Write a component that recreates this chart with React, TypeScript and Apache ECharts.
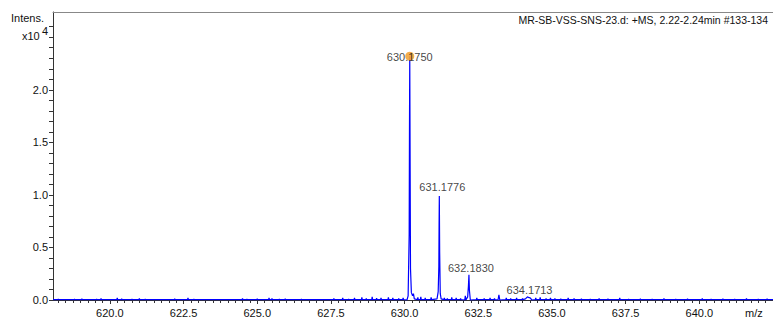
import React, { useEffect, useRef } from "react";
import * as echarts from "echarts";

// ---- axis ticks / labels ----
const xTickLabels = [620.0, 622.5, 625.0, 627.5, 630.0, 632.5, 635.0, 637.5, 640.0];
const yTickLabels = [0.0, 0.5, 1.0, 1.5, 2.0];

// ---- annotated peaks (m/z, intensity x10^4) ----
const peakLabels = ["630.1750", "631.1776", "632.1830", "634.1713"];
const peakMz = [630.175, 631.1776, 632.183, 634.1713];
const peakInt = [2.32, 0.99, 0.24, 0.03];

// ---- profile points of the isotope peaks ----
const profileMz = [
  630.08, 630.12, 630.155, 630.165, 630.175, 630.185, 630.2, 630.23, 630.27, 630.3, 630.33,
  631.1, 631.14, 631.162, 631.17, 631.178, 631.19, 631.21, 631.24,
  632.04, 632.06, 632.08, 632.14, 632.165, 632.183, 632.2, 632.23,
  633.17, 633.2, 633.23,
  634.1, 634.15, 634.17, 634.2, 634.26, 634.32,
];
const profileInt = [
  0.0, 0.04, 0.62, 1.6, 2.32, 1.5, 0.3, 0.07, 0.04, 0.06, 0.01,
  0.01, 0.08, 0.32, 0.72, 0.99, 0.45, 0.06, 0.01,
  0.0, 0.04, 0.0, 0.03, 0.13, 0.24, 0.09, 0.0,
  0.0, 0.05, 0.0,
  0.01, 0.025, 0.03, 0.025, 0.02, 0.0,
];

// ---- baseline noise spikes ----
const noiseMz = [
  618.25, 618.45, 618.8, 619.05, 619.3, 619.55, 619.7, 620.25, 620.4, 620.75, 621.0, 621.2,
  621.5, 622.2, 622.65, 622.85, 623.55, 624.5, 624.65, 625.0, 625.4, 625.5, 625.75, 625.95,
  626.5, 626.9, 627.6, 627.9, 628.1, 628.3, 628.55, 628.7, 628.9, 629.05, 629.2, 629.45,
  629.6, 629.8, 629.95, 630.45, 630.55, 630.7, 630.9, 631.35, 631.45, 631.6, 631.75, 631.9,
  632.45, 632.7, 632.9, 633.05, 633.45, 633.6, 633.8, 634.0, 634.45, 634.6, 634.8, 634.95,
  635.1, 635.3, 635.55, 635.75, 636.0, 636.3, 636.6, 636.9, 637.3, 637.6, 638.0, 638.4,
  638.8, 639.2, 639.6, 640.1, 640.4, 640.8, 641.2, 641.6, 642.0, 642.3,
];
const noiseInt = [
  0.01, 0.008, 0.01, 0.012, 0.008, 0.01, 0.015, 0.02, 0.012, 0.01, 0.015, 0.01,
  0.008, 0.012, 0.02, 0.01, 0.008, 0.015, 0.01, 0.012, 0.02, 0.015, 0.01, 0.012,
  0.01, 0.008, 0.015, 0.02, 0.01, 0.02, 0.025, 0.015, 0.03, 0.018, 0.02, 0.025,
  0.02, 0.015, 0.02, 0.025, 0.03, 0.02, 0.025, 0.02, 0.015, 0.025, 0.02, 0.015,
  0.02, 0.015, 0.02, 0.015, 0.02, 0.015, 0.02, 0.015, 0.02, 0.025, 0.015, 0.02,
  0.015, 0.012, 0.02, 0.015, 0.012, 0.01, 0.015, 0.012, 0.02, 0.01, 0.012, 0.01,
  0.015, 0.01, 0.012, 0.015, 0.01, 0.012, 0.01, 0.015, 0.01, 0.012,
];

const titleText = "MR-SB-VSS-SNS-23.d: +MS, 2.22-2.24min #133-134";
const FONT = "Liberation Sans";

function buildSpectrum(): [number, number][] {
  const pts: [number, number][] = [];
  noiseMz.forEach((m, i) => {
    pts.push([m - 0.015, 0.003]);
    pts.push([m, noiseInt[i]]);
    pts.push([m + 0.015, 0.003]);
  });
  profileMz.forEach((m, i) => pts.push([m, profileInt[i]]));
  pts.sort((a, b) => a[0] - b[0]);
  return [[618.07, 0.003], ...pts, [642.5, 0.003]];
}

export default function App() {
  const ref = useRef<HTMLDivElement>(null);
  useEffect(() => {
    document.body.style.margin = "0";
    const chart = echarts.init(ref.current!, null, { renderer: "svg" });
    const xMin = 618.07;
    const xMax = 642.5;
    const minorX: number[] = [];
    for (let v = 618.25; v < xMax; v += 0.25) minorX.push(Math.round(v * 100) / 100);
    const yTicks: number[] = [];
    for (let v = 0; v <= 2.7; v += 0.1) yTicks.push(Math.round(v * 10) / 10);

    chart.setOption({
      animation: false,
      grid: { left: 53, top: 12, right: 0, bottom: 23 },
      xAxis: [
        {
          type: "value", min: xMin, max: xMax, position: "bottom",
          axisLine: { lineStyle: { color: "#333", width: 1 } },
          axisTick: { customValues: xTickLabels, length: 4, lineStyle: { color: "#333" } },
          axisLabel: {
            customValues: xTickLabels, margin: 7, color: "#111", fontFamily: FONT, fontSize: 11,
            formatter: (v: number) => v.toFixed(1),
          },
          splitLine: { show: false },
        },
        {
          type: "value", min: xMin, max: xMax, position: "bottom",
          axisLine: { show: false },
          axisTick: { customValues: minorX, length: 3, lineStyle: { color: "#333" } },
          axisLabel: { show: false },
          splitLine: { show: false },
        },
        {
          type: "value", min: xMin, max: xMax, position: "top",
          axisLine: { lineStyle: { color: "#888" } },
          axisTick: { show: false },
          axisLabel: { show: false },
          splitLine: { show: false },
        },
      ],
      yAxis: {
        type: "value", min: 0, max: 2.74,
        axisLine: { show: true, lineStyle: { color: "#333" } },
        axisTick: { show: true, customValues: yTicks, length: 4, lineStyle: { color: "#333" } },
        axisLabel: {
          customValues: yTickLabels, margin: 5, color: "#111", fontFamily: FONT, fontSize: 11,
          formatter: (v: number) => v.toFixed(1),
        },
        splitLine: { show: false },
      },
      series: [
        {
          type: "line", data: buildSpectrum(), xAxisIndex: 0, showSymbol: false, symbol: "none",
          lineStyle: { color: "#0000ff", width: 1.2 }, z: 2,
        },
        {
          type: "scatter", xAxisIndex: 0, symbolSize: 9, z: 3,
          itemStyle: { color: "#f2a43a", opacity: 0.9 },
          data: [[peakMz[0], peakInt[0]]],
        },
        {
          type: "scatter", xAxisIndex: 0, symbolSize: 0, z: 4,
          data: peakMz.map((m, i) => ({
            value: [m, peakInt[i]],
            label: i === 0 ? { offset: [0, 7] } : i === 1 ? { offset: [3, -2] } : { offset: [2, 0] },
          })),
          label: {
            show: true, position: "top", distance: 1, color: "#111", fontFamily: FONT, fontSize: 11,
            formatter: (p: any) => peakLabels[p.dataIndex],
          },
        },
      ],
      graphic: [
        { type: "text", right: 5, top: 14, style: { text: titleText, fill: "#111", font: `10.5px '${FONT}'` } },
        { type: "text", left: 11, top: 12, style: { text: "Intens.", fill: "#111", font: `11px '${FONT}'` } },
        { type: "text", left: 22, top: 30, style: { text: "x10", fill: "#111", font: `11px '${FONT}'` } },
        { type: "text", left: 42, top: 25, style: { text: "4", fill: "#111", font: `11px '${FONT}'` } },
        { type: "text", left: 745, top: 307, style: { text: "m/z", fill: "#111", font: `11px '${FONT}'` } },
      ],
    });
    return () => chart.dispose();
  }, []);
  return <div ref={ref} style={{ width: 773, height: 323 }} />;
}
